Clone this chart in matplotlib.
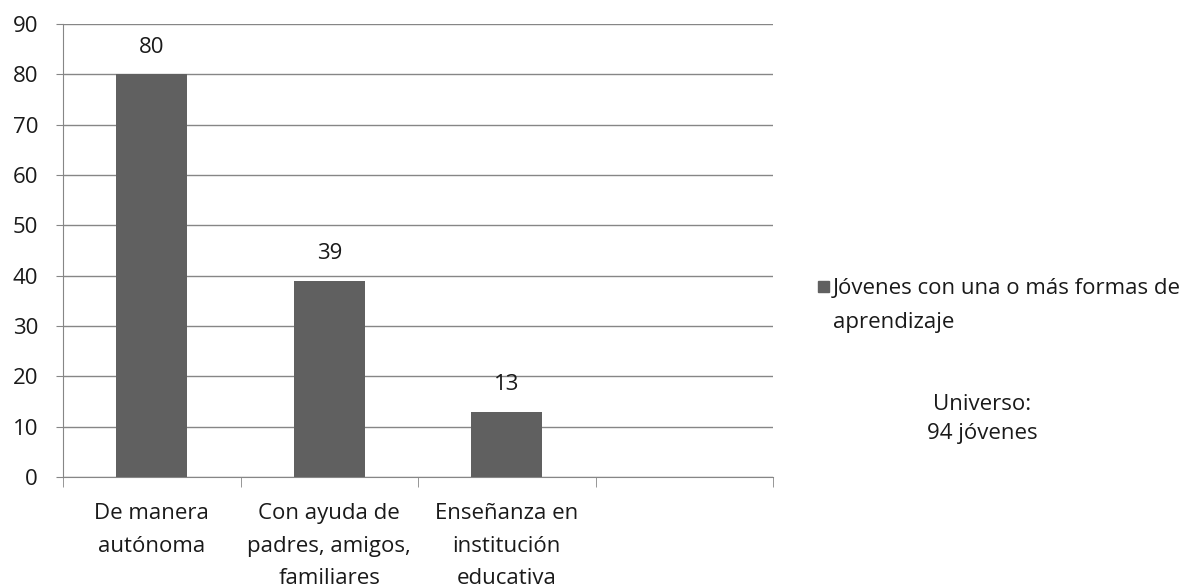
import matplotlib
matplotlib.use("Agg")
import matplotlib.pyplot as plt
from matplotlib.patches import Rectangle

categories = ["De manera\nautónoma", "Con ayuda de\npadres, amigos,\nfamiliares",
              "Enseñanza en\ninstitución\neducativa", ""]
values = [80, 39, 13, None]
series_name = "Jóvenes con una o más formas de\naprendizaje"
note = "Universo:\n94 jóvenes"
yticks = list(range(0, 91, 10))

plt.rcParams['font.family'] = ['Open Sans', 'DejaVu Sans']
FS = 16
TXT = "#1a1a1a"
GRID = "#868686"
BAR = "#606060"

fig = plt.figure(figsize=(12.02, 5.87), dpi=100)
ax = fig.add_axes([63/1202, 1-477/587, (773-63)/1202, (477-24)/587])

xs = [i for i, v in enumerate(values) if v is not None]
vs = [v for v in values if v is not None]
bars = ax.bar(xs, vs, width=0.4, color=BAR, label=series_name, zorder=3)
for x, v in zip(xs, vs):
    ax.annotate(str(v), (x, v), xytext=(0, 19.5), textcoords="offset points",
                ha="center", va="center", fontsize=FS, color=TXT)

ax.set_xlim(-0.5, len(categories) - 0.5)
ax.set_ylim(0, 90)
ax.set_yticks(yticks)
ax.set_yticklabels([str(t) for t in yticks], fontsize=FS, color=TXT)
ax.tick_params(axis="y", length=5, color=GRID, pad=13)
ax.yaxis.grid(True, color=GRID, linewidth=1, zorder=0)
ax.set_axisbelow(True)

ax.set_xticks(range(len(categories)))
ax.set_xticklabels(categories, fontsize=FS, color=TXT, linespacing=1.72)
ax.tick_params(axis="x", which="major", length=0, pad=19)
ax.set_xticks([i - 0.5 for i in range(len(categories) + 1)], minor=True)
ax.tick_params(axis="x", which="minor", length=7, color=GRID)

for s in ["top", "right"]:
    ax.spines[s].set_visible(False)
for s in ["left", "bottom"]:
    ax.spines[s].set_color(GRID)

# legend (square + label, drawn in figure coordinates)
fig.add_artist(Rectangle((818/1202, 1-292/587), 11/1202, 11/587,
                         transform=fig.transFigure, color=BAR))
fig.text(833/1202, 1-278/587, series_name, ha="left", va="top",
         fontsize=FS, color=TXT, linespacing=1.8)

fig.text(982/1202, 1-419/587, note, ha="center", va="center", fontsize=FS,
         color=TXT, linespacing=1.5)

fig.savefig("out.png", dpi=100)
